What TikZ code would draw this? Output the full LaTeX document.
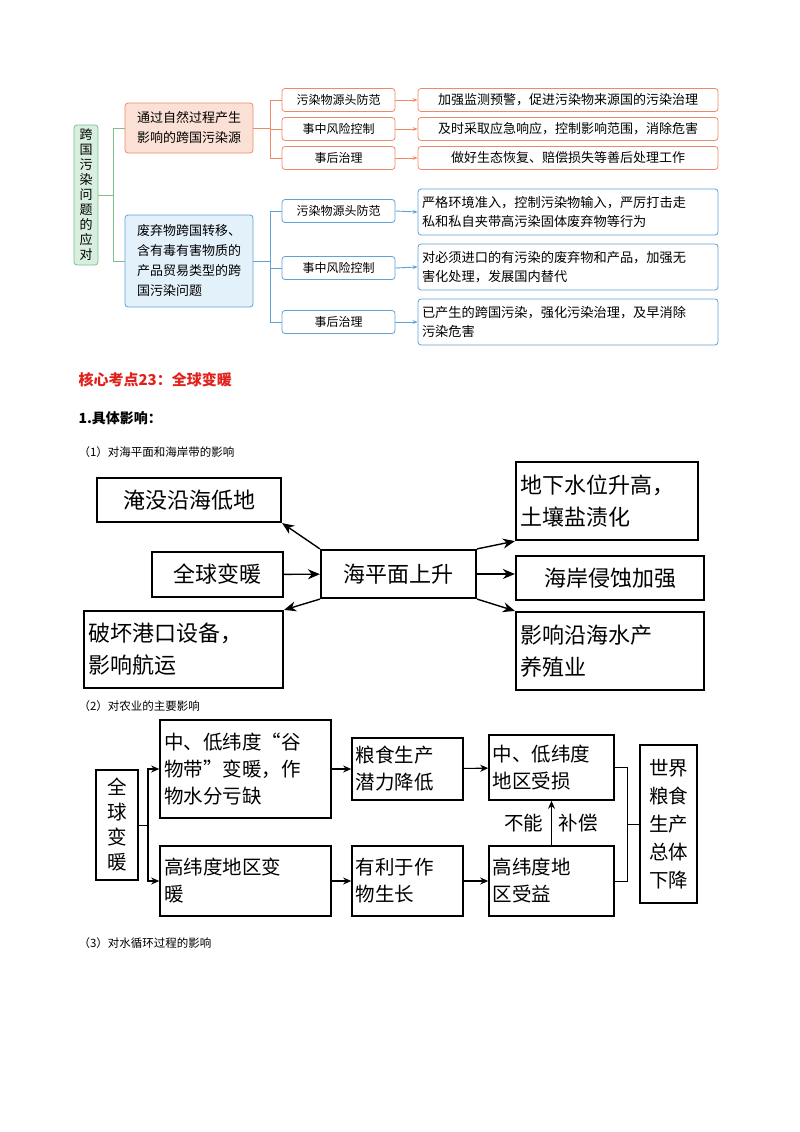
\documentclass[tikz,border=0pt]{standalone}
\usepackage{fontspec}
\setmainfont{Noto Sans CJK SC}
\usetikzlibrary{arrows.meta}
\definecolor{gB}{HTML}{7DBF8E}\definecolor{gF}{HTML}{D8EEDF}
\definecolor{rB}{HTML}{EE8A6A}\definecolor{rF}{HTML}{FBE0D6}
\definecolor{bB}{HTML}{5FA2D6}\definecolor{bF}{HTML}{E3F1FB}
\definecolor{tt}{HTML}{E0211C}
\tikzset{
 x=1pt,y=-1pt,
 bx/.style={draw,rounded corners=3pt,line width=0.8pt,inner sep=2pt,align=left,font=\fontsize{12}{16}\selectfont},
 ob/.style={bx,draw=rB,fill=white},
 bb/.style={bx,draw=bB,fill=white},
 kb/.style={draw,line width=2.2pt,inner sep=0pt,align=left,font=\fontsize{22}{32}\selectfont},
 ab/.style={draw,line width=1.6pt,inner sep=0pt,align=left,font=\fontsize{19.5}{27}\selectfont},
 ka/.style={-{Stealth[length=12pt,width=10pt]},line width=1.4pt},
 aa/.style={-{Stealth[length=8pt,width=7pt]},line width=1.1pt},
}
\begin{document}
\begin{tikzpicture}
\useasboundingbox (0,0) rectangle (800,1132);
% ---- top mind map
\node[bx,draw=gB,fill=gF,minimum width=24pt,minimum height=140pt,align=center,font=\fontsize{13}{15}\selectfont] (root) at (86,195) {跨\\国\\污\\染\\问\\题\\的\\应\\对};
\node[bx,draw=rB,fill=rF,minimum width=128pt,minimum height=50pt,font=\fontsize{13}{20}\selectfont] (r) at (189,128) {通过自然过程产生\\影响的跨国污染源};
\node[bx,draw=bB,fill=bF,minimum width=128pt,minimum height=92pt,font=\fontsize{13}{20}\selectfont] (b) at (189,261) {废弃物跨国转移、\\含有毒有害物质的\\产品贸易类型的跨\\国污染问题};
\draw[gB,line width=0.9pt] (root.east) -- (113,195);
\draw[gB,line width=0.9pt] (113,128) -- (r.west); \draw[gB,line width=0.9pt] (113,128) -- (113,261) -- (b.west);
\foreach \n/\y/\t/\u in {1/100/污染物源头防范/加强监测预警，促进污染物来源国的污染治理,2/129/事中风险控制/及时采取应急响应，控制影响范围，消除危害,3/158/事后治理/做好生态恢复、赔偿损失等善后处理工作}{
 \node[ob,minimum width=113pt,minimum height=23pt,align=center] (rm\n) at (338.5,\y) {\t};
 \node[ob,minimum width=300pt,minimum height=23pt,align=center,font=\fontsize{13}{16}\selectfont] (rr\n) at (568,\y) {\u};
 \draw[rB,line width=0.9pt,-{Stealth[length=5pt]}] (rm\n.east) -- (rr\n.west);
 \draw[rB,line width=0.9pt] (r.east) -- (270,128) |- (rm\n.west);
}
\foreach \n/\y/\ry/\t/\u in {1/211/212/污染物源头防范/{严格环境准入，控制污染物输入，严厉打击走\\私和私自夹带高污染固体废弃物等行为},2/268/267/事中风险控制/{对必须进口的有污染的废弃物和产品，加强无\\害化处理，发展国内替代},3/322/322/事后治理/{已产生的跨国污染，强化污染治理，及早消除\\污染危害}}{
 \node[bb,minimum width=113pt,minimum height=23pt,align=center] (bm\n) at (338.5,\y) {\t};
 \node[bb,minimum width=300pt,minimum height=46pt,text width=292pt,font=\fontsize{13.2}{19}\selectfont] (br\n) at (568,\ry) {\u};
 \draw[bB,line width=0.9pt,-{Stealth[length=5pt]}] (bm\n.east) -- (br\n.west);
 \draw[bB,line width=0.9pt] (b.east) -- (270,261) |- (bm\n.west);
}
% ---- headings
\node[anchor=west,text=tt,font=\bfseries\fontsize{15}{18}\selectfont] (h1) at (75,380) {核心考点23：全球变暖};
\node[anchor=west,font=\bfseries\fontsize{14}{18}\selectfont] (h2) at (75,418) {1.具体影响：};
\node[anchor=west,font=\fontsize{11.5}{14}\selectfont] (h3) at (75,452) {（1）对海平面和海岸带的影响};
\node[anchor=west,font=\fontsize{11.5}{14}\selectfont] (h4) at (75,706) {（2）对农业的主要影响};
\node[anchor=west,font=\fontsize{11.5}{14}\selectfont] (h5) at (75,943) {（3）对水循环过程的影响};
% ---- section 1
\node[kb,minimum width=184pt,minimum height=44pt,align=center] (k1) at (189,500) {淹没沿海低地};
\node[kb,minimum width=131pt,minimum height=45pt,align=center] (k2) at (217.5,574.5) {全球变暖};
\node[kb,minimum width=199pt,minimum height=77pt,text width=190pt] (k3) at (183.5,649.5) {破坏港口设备，\\影响航运};
\node[kb,minimum width=155pt,minimum height=48pt,align=center] (k4) at (398.5,574) {海平面上升};
\node[kb,minimum width=182pt,minimum height=78pt,text width=174pt] (k5) at (607,501) {地下水位升高，\\土壤盐渍化};
\node[kb,minimum width=188pt,minimum height=44pt,align=center] (k6) at (610,578) {海岸侵蚀加强};
\node[kb,minimum width=188pt,minimum height=78pt,text width=180pt] (k7) at (610,651) {影响沿海水产\\养殖业};
\draw[ka] (k2) -- (k4);
\draw[ka] (k4.north west) -- (k1.south east);
\draw[ka] (k4.south west) -- (k3.north east);
\draw[ka] (k4.north east) -- (k5.south west);
\draw[ka] (k4.east) -- (k4.east -| k6.west);
\draw[ka] (k4.south east) -- (k7.north west);
% ---- section 2
\node[ab,minimum width=42pt,minimum height=110pt,align=center,font=\fontsize{19.5}{25}\selectfont] (a0) at (117,825) {全\\球\\变\\暖};
\node[ab,minimum width=171pt,minimum height=98pt,text width=163pt] (a1) at (245.5,769) {中、低纬度“谷\\物带”变暖，作\\物水分亏缺};
\node[ab,minimum width=111pt,minimum height=62pt,text width=104pt] (a2) at (407.5,769) {粮食生产\\潜力降低};
\node[ab,minimum width=125pt,minimum height=65pt,text width=118pt] (a3) at (551.5,767.5) {中、低纬度\\地区受损};
\node[ab,minimum width=171pt,minimum height=70pt,text width=163pt] (a4) at (245.5,881) {高纬度地区变\\暖};
\node[ab,minimum width=111pt,minimum height=70pt,text width=104pt] (a5) at (407.5,881) {有利于作\\物生长};
\node[ab,minimum width=125pt,minimum height=70pt,text width=118pt] (a6) at (551.5,881) {高纬度地\\区受益};
\node[ab,minimum width=57pt,minimum height=158pt,align=center,font=\fontsize{19.5}{28}\selectfont] (a7) at (668.5,824) {世界\\粮食\\生产\\总体\\下降};
\draw[line width=1pt] (a0.east) -- (148,825);
\draw[aa] (148,825) |- (a1.west);
\draw[aa] (148,825) |- (a4.west);
\draw[aa] (a1) -- (a2); \draw[aa] (a2) -- (a3);
\draw[aa] (a4) -- (a5); \draw[aa] (a5) -- (a6);
\draw[aa] (a6.north) -- (a3.south);
\node[anchor=east,font=\fontsize{19.5}{24}\selectfont] (nl) at (547,823) {不能};
\node[anchor=west,font=\fontsize{19.5}{24}\selectfont] (nr) at (555,823) {补偿};
\draw[line width=0.8pt] (a3.east) -- (627,767.5) -- (627,881) -- (a6.east);
\draw[line width=0.8pt] (627,824) -- (a7.west);
\end{tikzpicture}
\end{document}
